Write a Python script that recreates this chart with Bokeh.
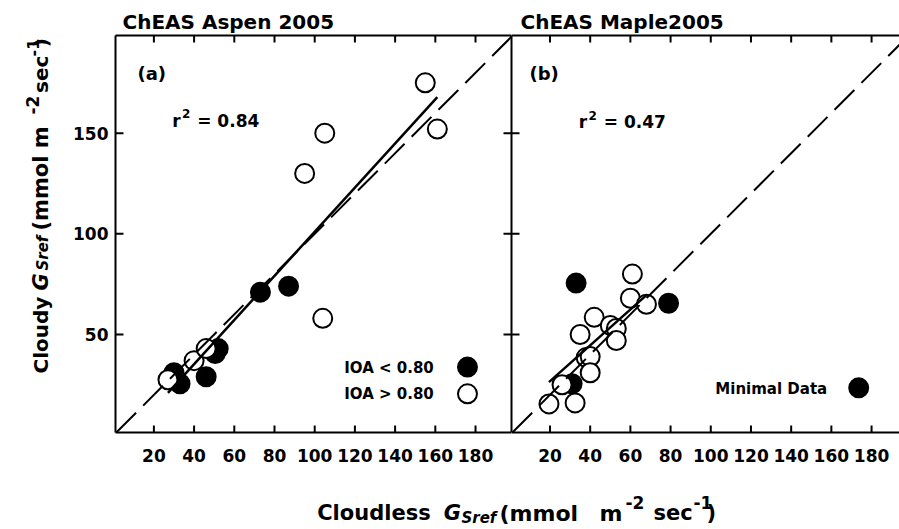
import math
from bokeh.plotting import figure
from bokeh.models import Range1d, LinearAxis, FixedTicker, Label, Slope, Title
from bokeh.layouts import column, row
from bokeh.embed import file_html
from bokeh.resources import INLINE

# ---------------- data ----------------
aspen_low_x = [30, 33, 46, 50.5, 52, 73, 87]          # IOA < 0.80 (filled)
aspen_low_y = [31, 25.5, 29, 40.5, 43, 71, 74]
aspen_high_x = [27, 40, 46, 104, 95, 105, 155, 161]   # IOA > 0.80 (open)
aspen_high_y = [27.5, 37, 43, 58, 130, 150, 175, 152]
aspen_fit = [1.096, -8.6]                              # slope, intercept
aspen_r2 = "0.84"

maple_x = [61, 60, 68, 42, 50, 53, 35, 53, 38, 40, 40, 26, 19.5, 32.5]
maple_y = [80, 68, 65, 58.5, 54.5, 53, 50, 47, 38.5, 39, 31, 25, 15.5, 16]
maple_min_x = [33, 79, 31]                             # Minimal Data (filled)
maple_min_y = [75.5, 65.5, 25.5]
maple_fit = [0.89, 9.0]
maple_r2 = "0.47"

x_ticks = [20, 40, 60, 80, 100, 120, 140, 160, 180]
y_ticks = [50, 100, 150]

# legend key positions (data units of each panel)
key_a_low = (176, 33.8)
key_a_high = (176, 20.5)
key_b_min = (173.6, 23.5)

FONT = "DejaVu Sans"
Y_RANGE = (1.3, 198.5)
XR_A = (0.9, 197.9)
XR_B = (0.85, 193.9)
PANEL_H = 470
FRAME_H = 397
FRAME_W_A = 396
FRAME_W_B = 388
TICK_X_LEN = 7   # px, inward
TICK_Y_LEN = 8   # px, inward


def style_axis(ax, ticks, labels, standoff=16):
    ax.ticker = FixedTicker(ticks=ticks)
    ax.axis_line_width = 2
    ax.axis_line_color = "black"
    ax.major_tick_line_color = None
    ax.major_tick_in = 0
    ax.major_tick_out = 0
    ax.minor_tick_line_color = None
    ax.minor_tick_in = 0
    ax.minor_tick_out = 0
    if labels:
        ax.major_label_text_font = FONT
        ax.major_label_text_font_style = "bold"
        ax.major_label_text_font_size = "17px"
        ax.major_label_text_color = "black"
        ax.major_label_standoff = standoff
    else:
        ax.major_label_text_color = None
        ax.major_label_text_font_size = "1px"
        ax.major_label_standoff = 0


def make_panel(width, xr, min_left, title, offset):
    p = figure(width=width, height=PANEL_H, x_range=Range1d(*xr), y_range=Range1d(*Y_RANGE),
               output_backend="svg", toolbar_location=None,
               x_axis_location="below", y_axis_location="left",
               min_border_left=min_left, min_border_right=0,
               min_border_top=35, min_border_bottom=38)
    p.title = Title(text=title, align="left", offset=offset, standoff=4,
                    text_font=FONT, text_font_style="bold", text_font_size="20px",
                    text_color="black")
    p.outline_line_color = None
    p.xgrid.visible = False
    p.ygrid.visible = False
    p.background_fill_color = None
    p.border_fill_color = None
    return p


def inward_ticks(p, xr, frame_w, sides):
    """Short inward tick marks at the tick values, drawn through the panel's scales."""
    dx = TICK_Y_LEN * (xr[1] - xr[0]) / frame_w
    dy = TICK_X_LEN * (Y_RANGE[1] - Y_RANGE[0]) / FRAME_H
    x0s, y0s, x1s, y1s = [], [], [], []
    for t in x_ticks:
        if "bottom" in sides:
            x0s += [t]; x1s += [t]; y0s += [Y_RANGE[0]]; y1s += [Y_RANGE[0] + dy]
        if "top" in sides:
            x0s += [t]; x1s += [t]; y0s += [Y_RANGE[1]]; y1s += [Y_RANGE[1] - dy]
    for t in y_ticks:
        if "left" in sides:
            x0s += [xr[0]]; x1s += [xr[0] + dx]; y0s += [t]; y1s += [t]
        if "right" in sides:
            x0s += [xr[1]]; x1s += [xr[1] - dx]; y0s += [t]; y1s += [t]
    p.segment(x0=x0s, y0=y0s, x1=x1s, y1=y1s, line_color="black", line_width=2,
              line_cap="butt")


def make_strip(width, height, top=0, bottom=0):
    s = figure(width=width, height=height, x_range=Range1d(0, 1), y_range=Range1d(0, 1),
               output_backend="svg", toolbar_location=None,
               x_axis_location=None, y_axis_location=None, min_border=0,
               min_border_top=top, min_border_bottom=bottom)
    s.outline_line_color = None
    s.xgrid.visible = False
    s.ygrid.visible = False
    return s


def add_label(p, fl, fb, px, py, text, size, style="bold", angle=0.0,
              align="left", baseline="alphabetic"):
    p.add_layout(Label(x=px - fl, y=fb - py, x_units="screen", y_units="screen",
                       text=text, text_font=FONT, text_font_style=style,
                       text_font_size=f"{size}px", text_color="black",
                       text_align=align, text_baseline=baseline, angle=angle))


def circles(p, xs, ys, filled):
    return p.scatter(xs, ys, size=19, marker="circle",
                     fill_color="black" if filled else "white",
                     line_color="black", line_width=2)


def fit_line(p, xs, fit):
    x0, x1 = min(xs), max(xs)
    p.line([x0, x1], [fit[0] * x0 + fit[1], fit[0] * x1 + fit[1]],
           line_color="black", line_width=2.5)


def one_to_one(p):
    p.add_layout(Slope(gradient=1, y_intercept=0, line_color="black",
                       line_width=2, line_dash="28 10"))


# ---------------- left strip: y-axis title (frame 35..432) ----------------
pl = make_strip(60, PANEL_H, top=35, bottom=38)
FBl = 432
R = math.pi / 2
add_label(pl, 0, FBl, 40, 373, "Cloudy", 20, angle=R)
add_label(pl, 0, FBl, 40, 290, "G", 21, style="bold italic", angle=R)
add_label(pl, 0, FBl, 42.7, 270, "Sref", 15, style="bold italic", angle=R)
add_label(pl, 0, FBl, 40, 230, "(mmol m", 21, angle=R)
add_label(pl, 0, FBl, 32, 114, "-2", 17, angle=R)
add_label(pl, 0, FBl, 40, 92.5, "sec", 20, angle=R)
add_label(pl, 0, FBl, 32, 56, "-1", 16, angle=R)
add_label(pl, 0, FBl, 40, 46.7, ")", 20, angle=R)

# ---------------- panel (a) ----------------
pa = make_panel(451, XR_A, 55, "ChEAS Aspen 2005", 7)
style_axis(pa.xaxis[0], x_ticks, True)
style_axis(pa.yaxis[0], y_ticks, True, standoff=7)
top_a = LinearAxis()
style_axis(top_a, x_ticks, False)
pa.add_layout(top_a, "above")
right_a = LinearAxis()
style_axis(right_a, y_ticks, False)
pa.add_layout(right_a, "right")
inward_ticks(pa, XR_A, FRAME_W_A, ("bottom", "top", "left", "right"))

circles(pa, aspen_low_x, aspen_low_y, True)
circles(pa, aspen_high_x, aspen_high_y, False)
fit_line(pa, aspen_low_x + aspen_high_x, aspen_fit)
one_to_one(pa)
circles(pa, [key_a_low[0]], [key_a_low[1]], True)
circles(pa, [key_a_high[0]], [key_a_high[1]], False)

FLa, FB = 115, 432
add_label(pa, FLa, FB, 137, 73, "(a)", 18)
add_label(pa, FLa, FB, 171.7, 120, "r", 17)
add_label(pa, FLa, FB, 181.5, 113, "2", 12)
add_label(pa, FLa, FB, 196.7, 120, "= " + aspen_r2, 17)
add_label(pa, FLa, FB, 433.3, 367.3, "IOA < 0.80", 15, align="right", baseline="middle")
add_label(pa, FLa, FB, 433.3, 393.3, "IOA > 0.80", 15, align="right", baseline="middle")

# ---------------- panel (b) ----------------
pb = make_panel(388, XR_B, 0, "ChEAS Maple2005", 9)
style_axis(pb.xaxis[0], x_ticks, True)
style_axis(pb.yaxis[0], y_ticks, False)
top_b = LinearAxis()
style_axis(top_b, x_ticks, False)
pb.add_layout(top_b, "above")
inward_ticks(pb, XR_B, FRAME_W_B, ("bottom", "top", "left"))

circles(pb, maple_min_x, maple_min_y, True)
circles(pb, maple_x, maple_y, False)
fit_line(pb, maple_x, maple_fit)
one_to_one(pb)
circles(pb, [key_b_min[0]], [key_b_min[1]], True)

FLb = 511
add_label(pb, FLb, FB, 529, 73, "(b)", 18)
add_label(pb, FLb, FB, 578.3, 121.7, "r", 17)
add_label(pb, FLb, FB, 588, 114.7, "2", 12)
add_label(pb, FLb, FB, 603.3, 121.7, "= " + maple_r2, 17)
add_label(pb, FLb, FB, 826.7, 388.3, "Minimal Data", 15, align="right", baseline="middle")

# ---------------- bottom strip: shared x-axis title ----------------
px = make_strip(899, 59)
FBx = 529
add_label(px, 0, FBx, 316.7, 512.7, "Cloudless", 21)
add_label(px, 0, FBx, 443.3, 512.7, "G", 21, style="bold italic")
add_label(px, 0, FBx, 461, 517, "Sref", 15, style="bold italic")
add_label(px, 0, FBx, 499, 512.7, "(mmol", 22)
add_label(px, 0, FBx, 599, 512.7, "m", 22)
add_label(px, 0, FBx, 625, 501.7, "-2", 17)
add_label(px, 0, FBx, 653, 512.7, "sec", 21)
add_label(px, 0, FBx, 693, 501.7, "-1", 17)
add_label(px, 0, FBx, 706, 512.7, ")", 21)

layout = column(row(pl, pa, pb, spacing=0), px, spacing=0)
open("out.html", "w").write(file_html(layout, INLINE))
